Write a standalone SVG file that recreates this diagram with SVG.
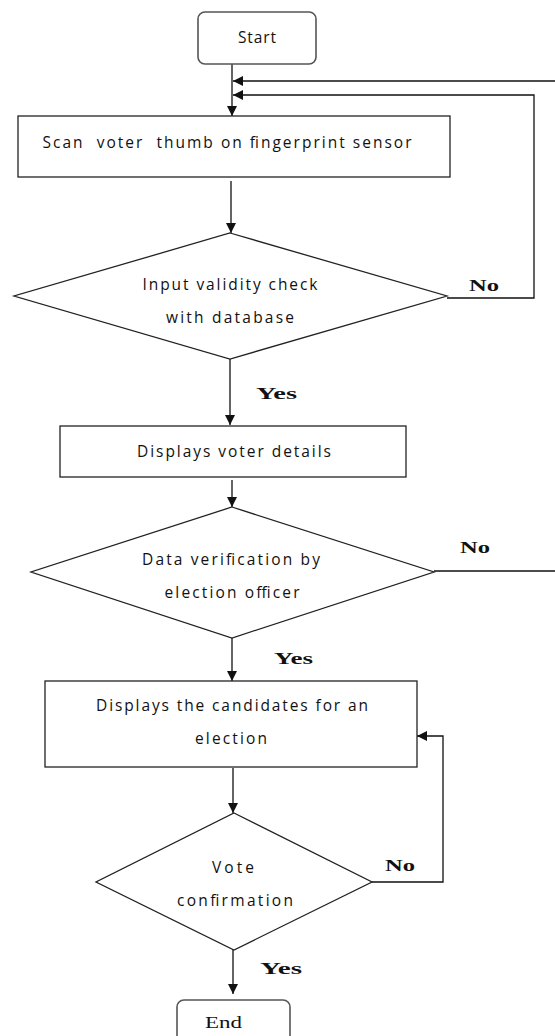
<svg xmlns="http://www.w3.org/2000/svg" width="555" height="1036" viewBox="0 0 555 1036">
<style>
.box{fill:#fff;stroke:#222;stroke-width:1.3}
.term{fill:#fff;stroke:#555;stroke-width:1.6}
.t{font-family:"Open Sans",Lato,"Liberation Sans",sans-serif;font-size:15.5px;fill:#111;text-anchor:middle}
.lbl{font-family:"Liberation Serif","DejaVu Serif",serif;font-weight:bold;font-size:17px;fill:#111}
.end{font-family:"Liberation Serif","DejaVu Serif",serif;font-size:17px;fill:#111}
.c{fill:none;stroke:#111;stroke-width:1.3}
</style>
<defs>
<marker id="ah" viewBox="0 0 10 10" refX="10" refY="5" markerWidth="10" markerHeight="10" markerUnits="userSpaceOnUse" orient="auto">
<path d="M0,0 L10,5 L0,10 z" fill="#111"/>
</marker>
</defs>
<g id="connectors">
<line class="c" x1="232" y1="64" x2="232" y2="116" marker-end="url(#ah)"/>
<line class="c" x1="555" y1="81" x2="233" y2="81" marker-end="url(#ah)"/>
<polyline class="c" points="447,298 534,298 534,95 233,95" marker-end="url(#ah)"/>
<line class="c" x1="231" y1="181" x2="231" y2="233" marker-end="url(#ah)"/>
<line class="c" x1="230" y1="359" x2="230" y2="425" marker-end="url(#ah)"/>
<line class="c" x1="232" y1="480" x2="232" y2="507" marker-end="url(#ah)"/>
<line class="c" x1="434" y1="571" x2="555" y2="571"/>
<line class="c" x1="232" y1="638" x2="232" y2="681" marker-end="url(#ah)"/>
<polyline class="c" points="372,882 443,882 443,736 417,736" marker-end="url(#ah)"/>
<line class="c" x1="233" y1="768" x2="233" y2="813" marker-end="url(#ah)"/>
<line class="c" x1="233" y1="950" x2="233" y2="994" marker-end="url(#ah)"/>
<text class="lbl" x="469" y="291" textLength="30" lengthAdjust="spacingAndGlyphs">No</text>
<text class="lbl" x="256" y="399" textLength="41" lengthAdjust="spacingAndGlyphs">Yes</text>
<text class="lbl" x="460" y="553" textLength="30" lengthAdjust="spacingAndGlyphs">No</text>
<text class="lbl" x="274" y="664" textLength="39" lengthAdjust="spacingAndGlyphs">Yes</text>
<text class="lbl" x="385" y="871" textLength="30" lengthAdjust="spacingAndGlyphs">No</text>
<text class="lbl" x="260" y="974" textLength="42" lengthAdjust="spacingAndGlyphs">Yes</text>
</g>
<g id="start">
<rect class="term" x="198" y="12" width="118" height="52" rx="7"/>
<text class="t" x="257" y="43" textLength="38" lengthAdjust="spacing">Start</text>
</g>
<g id="scan">
<rect class="box" x="18" y="116" width="432" height="61"/>
<text class="t" x="227" y="148" textLength="369" lengthAdjust="spacing" xml:space="preserve">Scan  voter  thumb on fingerprint sensor</text>
</g>
<g id="check">
<polygon class="box" points="230,233 447,296 230,359 14,296"/>
<text class="t" x="230" y="290" textLength="175" lengthAdjust="spacing">Input validity check</text>
<text class="t" x="230" y="323" textLength="128" lengthAdjust="spacing">with database</text>
</g>
<g id="details">
<rect class="box" x="60" y="426" width="346" height="51"/>
<text class="t" x="234" y="457" textLength="194" lengthAdjust="spacing">Displays voter details</text>
</g>
<g id="verify">
<polygon class="box" points="232,507 434,572 232,638 31,572"/>
<text class="t" x="231" y="565" textLength="178" lengthAdjust="spacing">Data verification by</text>
<text class="t" x="232" y="598" textLength="135" lengthAdjust="spacing">election officer</text>
</g>
<g id="candidates">
<rect class="box" x="45" y="681" width="372" height="86"/>
<text class="t" x="232" y="711" textLength="272" lengthAdjust="spacing">Displays the candidates for an</text>
<text class="t" x="231" y="744" textLength="72" lengthAdjust="spacing">election</text>
</g>
<g id="confirm">
<polygon class="box" points="234,813 372,882 234,950 96,882"/>
<text class="t" x="233" y="873" textLength="42" lengthAdjust="spacing">Vote</text>
<text class="t" x="235" y="906" textLength="116" lengthAdjust="spacing">confirmation</text>
</g>
<g id="end">
<rect class="term" x="177" y="1000" width="113" height="50" rx="7"/>
<text class="end" x="205" y="1028" textLength="37" lengthAdjust="spacingAndGlyphs">End</text>
</g>
</svg>
